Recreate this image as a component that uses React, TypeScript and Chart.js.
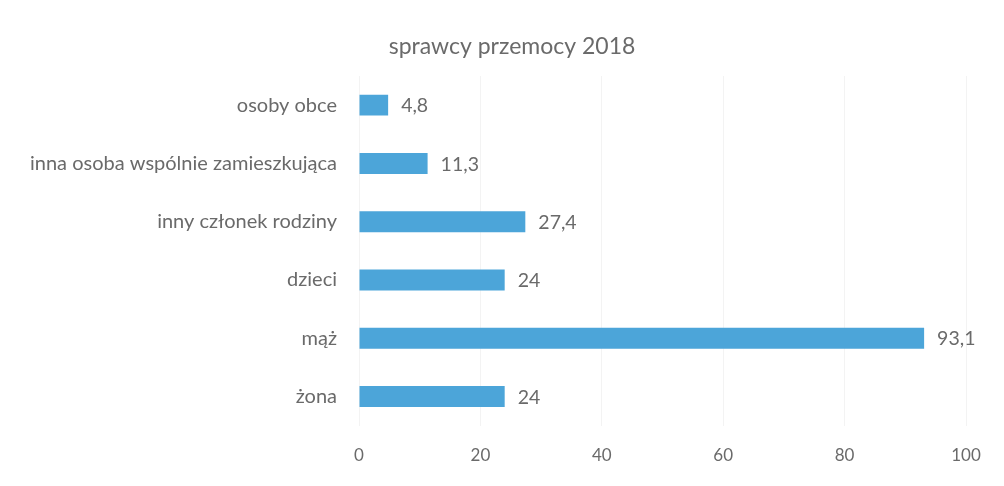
import React, { useEffect, useRef } from "react";
import { Chart, registerables } from "chart.js";

Chart.register(...registerables);

const categories = [
  "osoby obce",
  "inna osoba wspólnie zamieszkująca",
  "inny członek rodziny",
  "dzieci",
  "mąż",
  "żona",
];
const values = [4.8, 11.3, 27.4, 24, 93.1, 24];
const xTicks = [0, 20, 40, 60, 80, 100];
const title = "sprawcy przemocy 2018";

const FONT = "Lato, 'Open Sans', sans-serif";
const TEXT = "#6a6a6a";

const valueLabels = {
  id: "valueLabels",
  afterDatasetsDraw(chart: any) {
    const ctx = chart.ctx;
    const meta = chart.getDatasetMeta(0);
    ctx.save();
    ctx.font = `19.5px ${FONT}`;
    ctx.fillStyle = TEXT;
    ctx.textAlign = "left";
    ctx.textBaseline = "middle";
    meta.data.forEach((bar: any, i: number) => {
      const v = chart.data.datasets[0].data[i];
      ctx.fillText(String(v).replace(".", ","), bar.x + 13, bar.y + 1);
    });
    ctx.restore();
  },
};

const centeredTitle = {
  id: "centeredTitle",
  afterDraw(chart: any) {
    const ctx = chart.ctx;
    ctx.save();
    ctx.font = `23px ${FONT}`;
    ctx.fillStyle = TEXT;
    ctx.textAlign = "center";
    ctx.textBaseline = "middle";
    ctx.fillText(title, chart.width / 2 + 10, 47);
    ctx.restore();
  },
};

export default function App() {
  const ref = useRef<HTMLCanvasElement>(null);
  useEffect(() => {
    if (!ref.current) return;
    const chart = new Chart(ref.current, {
      type: "bar",
      data: {
        labels: categories,
        datasets: [
          {
            data: values,
            backgroundColor: "#4ca5d9",
            barPercentage: 0.36,
            categoryPercentage: 1,
          },
        ],
      },
      options: {
        indexAxis: "y",
        animation: false,
        responsive: false,
        layout: { padding: { left: 0, right: 38, top: 76, bottom: 0 } },
        plugins: {
          legend: { display: false },
          tooltip: { enabled: false },
          title: { display: false },
        },
        scales: {
          x: {
            min: 0,
            max: 100,
            afterBuildTicks: (scale: any) => {
              scale.ticks = xTicks.map((v) => ({ value: v }));
            },
            grid: { color: "#f3f3f3", drawTicks: false },
            border: { display: false },
            ticks: {
              color: TEXT,
              padding: 20,
              font: { family: FONT, size: 17 },
            },
          },
          y: {
            afterFit: (scale: any) => {
              scale.width = 359;
            },
            grid: { display: false, drawTicks: false },
            border: { display: false },
            ticks: {
              color: TEXT,
              padding: 22,
              font: { family: FONT, size: 20 },
            },
          },
        },
      },
      plugins: [valueLabels, centeredTitle],
    });
    return () => chart.destroy();
  }, []);
  return (
    <div style={{ position: "fixed", left: 0, top: 0, width: 1004, height: 486, background: "#fff" }}>
      <canvas ref={ref} width={1004} height={486} />
    </div>
  );
}
